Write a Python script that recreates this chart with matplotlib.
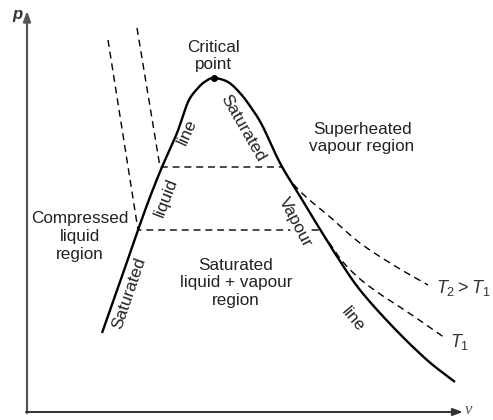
import numpy as np
import matplotlib.pyplot as plt

plt.rcParams['font.family'] = ['Liberation Sans', 'DejaVu Sans']
plt.rcParams['mathtext.fontset'] = 'custom'
plt.rcParams['mathtext.it'] = 'Liberation Sans:italic'
plt.rcParams['mathtext.rm'] = 'Liberation Sans'

# saturation dome (v, p), left branch -> critical point -> right branch
dome_v = [75, 93, 111, 123, 135, 150, 161, 171, 179, 187,
          201, 213, 223, 235, 253, 271, 291, 311, 333, 366, 400, 428]
dome_p = [79, 130, 182, 215, 245, 279, 310, 324, 331, 334,
          330, 319, 306, 287, 249, 219, 186, 154, 122, 85, 52, 30]
critical = (187, 334)

# isotherm T1 (lower)
t1_left_v = [81, 111]
t1_left_p = [372, 182]
t1_right_v = [293, 301, 316, 333, 353, 376, 398, 418]
t1_right_p = [182, 171, 150, 133, 118, 103, 88, 74]

# isotherm T2 > T1 (upper)
t2_left_v = [110, 133]
t2_left_p = [384, 245]
t2_right_v = [255, 263, 278, 303, 333, 368, 401]
t2_right_p = [245, 232, 216, 195, 169, 146, 127]


def smooth(xs, ys, n=20):
    p = np.column_stack([xs, ys]).astype(float)
    p = np.vstack([2 * p[0] - p[1], p, 2 * p[-1] - p[-2]])
    t = np.linspace(0, 1, n, endpoint=False)[:, None]
    out = []
    for i in range(1, len(p) - 2):
        p0, p1, p2, p3 = p[i - 1], p[i], p[i + 1], p[i + 2]
        out.append(0.5 * (2 * p1 + (-p0 + p2) * t
                          + (2 * p0 - 5 * p1 + 4 * p2 - p3) * t ** 2
                          + (-p0 + 3 * p1 - 3 * p2 + p3) * t ** 3))
    out.append(p[-2][None])
    return np.vstack(out)


fig = plt.figure(figsize=(4.93, 4.2), dpi=100)
ax = fig.add_axes([0, 0, 1, 1])
ax.set_xlim(-27, 466)
ax.set_ylim(-8, 412)
ax.set_aspect('equal')
ax.axis('off')

# axes with arrows
ax.annotate('', xy=(0, 401), xytext=(0, -1),
            arrowprops=dict(arrowstyle='-|>,head_length=0.6,head_width=0.22',
                            color='#555555', lw=1.6, shrinkA=0, shrinkB=0))
ax.annotate('', xy=(436, 0), xytext=(-1, 0),
            arrowprops=dict(arrowstyle='-|>,head_length=0.6,head_width=0.22',
                            color='#333333', lw=1.4, shrinkA=0, shrinkB=0))
ax.text(-10, 397, 'p', fontsize=12, fontstyle='italic', fontweight='bold',
        color='#333333', ha='center', va='center')
ax.text(441, 2, 'v', family='Liberation Serif', fontsize=12, fontstyle='italic',
        color='#555555', ha='center', va='center')

# dome
d = smooth(dome_v, dome_p)
ax.plot(d[:, 0], d[:, 1], color='black', lw=1.7, solid_capstyle='butt', zorder=3)
ax.plot(*critical, 'o', color='black', ms=4, zorder=4)

dash = dict(color='black', lw=1.0, linestyle=(0, (5, 3.5)), zorder=2)
for lv, lp, rv, rp in [(t1_left_v, t1_left_p, t1_right_v, t1_right_p),
                       (t2_left_v, t2_left_p, t2_right_v, t2_right_p)]:
    r = smooth(rv, rp)
    xs = np.concatenate([lv, r[:, 0]])
    ys = np.concatenate([lp, r[:, 1]])
    ax.plot(xs, ys, **dash)

fs = 12.3
txt = '#222222'
box = dict(facecolor='white', edgecolor='none', pad=0.5)
# boxed labels sit above the dashed lines but below the dome curve
ax.text(186, 356, 'Critical\npoint', fontsize=fs, ha='center', va='center',
        linespacing=1.2, color=txt, zorder=5)
ax.text(335, 274, 'Superheated\nvapour region', fontsize=fs, ha='center',
        va='center', linespacing=1.2, color=txt, bbox=box, zorder=2.5)
ax.text(53, 176, 'Compressed\nliquid\nregion', fontsize=fs, ha='center',
        va='center', linespacing=1.25, color=txt, bbox=box, zorder=2.5)
ax.text(209, 129, 'Saturated\nliquid + vapour\nregion', fontsize=fs,
        ha='center', va='center', linespacing=1.2, color=txt,
        bbox=box, zorder=2.5)

rot_labels = [
    ('line', 160, 280, 66),
    ('liquid', 139, 214, 69),
    ('Saturated', 102, 119, 71),
    ('Saturated', 216, 284, -60),
    ('line', 326, 93, -50),
]
for s, x, y, r in rot_labels:
    ax.text(x, y, s, fontsize=fs, rotation=r, rotation_mode='anchor',
            ha='center', va='center', color=txt, zorder=5)
# this one sits on the dashed line and hides it
ax.text(268, 190, 'Vapour', fontsize=fs, rotation=-62, rotation_mode='anchor',
        ha='center', va='center', color=txt,
        bbox=dict(facecolor='white', edgecolor='none', pad=0.2), zorder=2.5)

ax.text(409, 124, r'$T_2 > T_1$', fontsize=fs + 0.7, ha='left', va='center',
        color='#333333', zorder=5)
ax.text(423, 70, r'$T_1$', fontsize=fs + 0.7, ha='left', va='center',
        color='#333333', zorder=5)

fig.savefig('out.png', dpi=100)
